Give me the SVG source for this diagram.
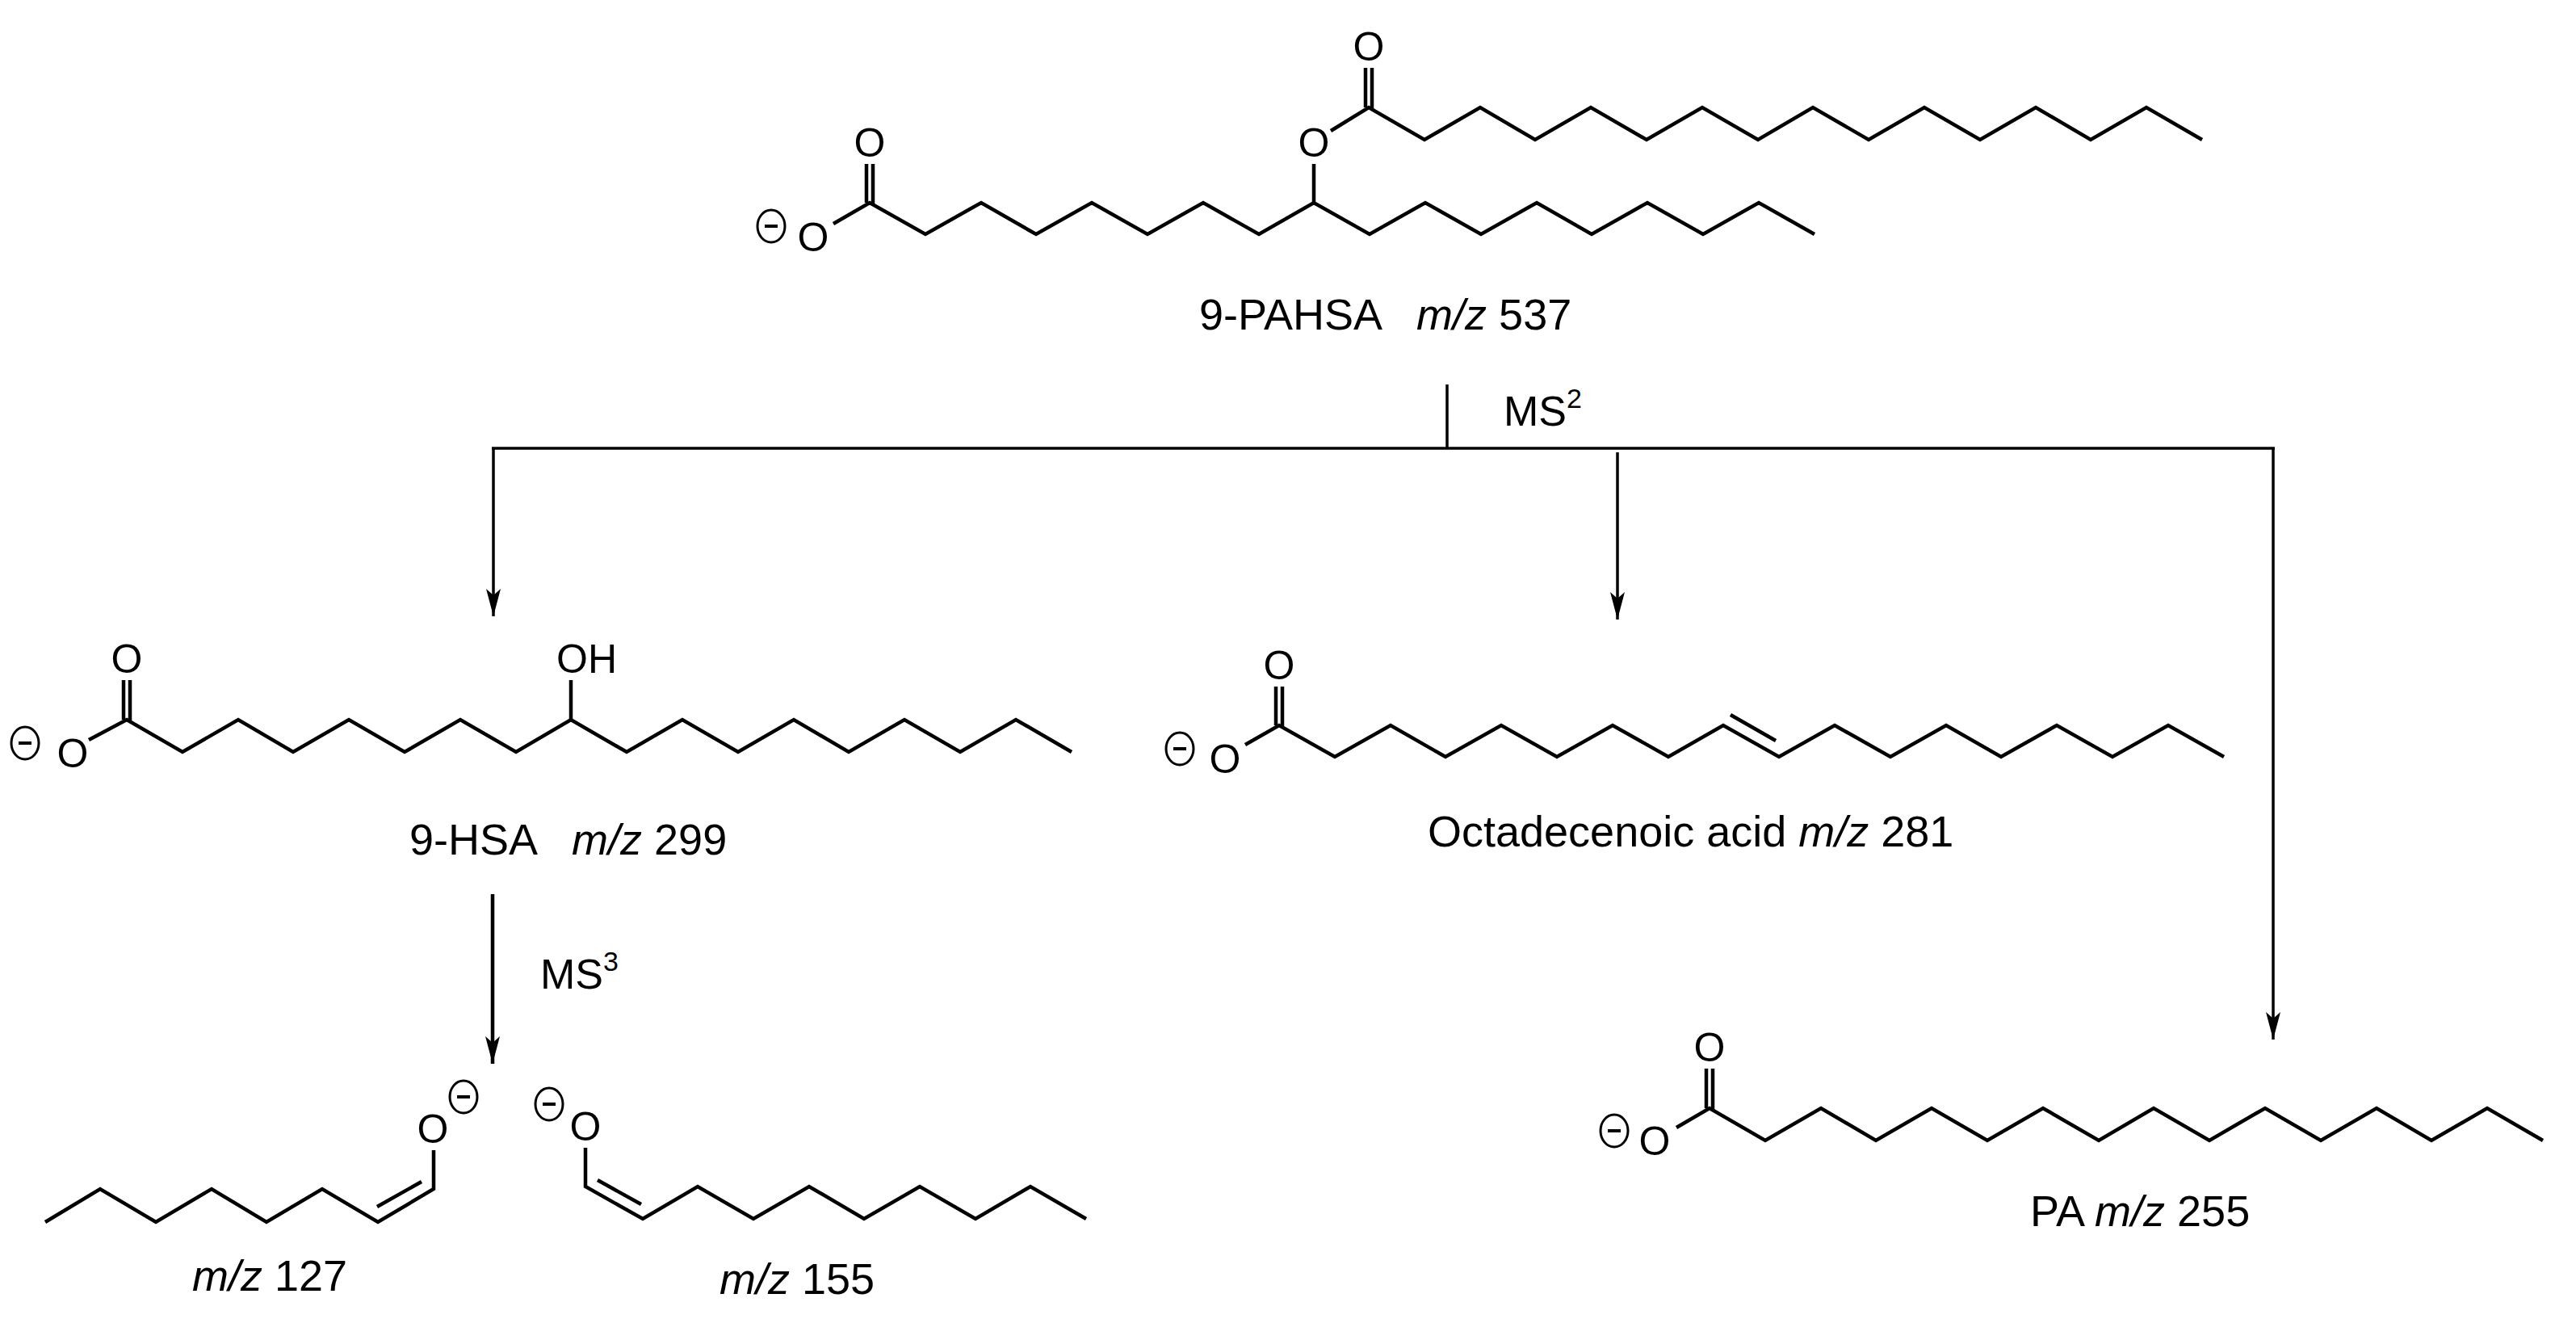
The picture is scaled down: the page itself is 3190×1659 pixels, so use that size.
<svg xmlns="http://www.w3.org/2000/svg" width="3190" height="1659" viewBox="0 0 3190 1659">
<style>
.b{fill:none;stroke:#000;stroke-width:4.5;stroke-linejoin:miter;stroke-linecap:butt}
.a{fill:none;stroke:#000;stroke-width:3.5}
.t{font-family:"Liberation Sans",Arial,sans-serif;font-size:54px;fill:#000;white-space:pre}
.at{font-family:"Liberation Sans",Arial,sans-serif;font-size:50px;fill:#000;text-anchor:middle}
.i{font-style:italic}
.m{fill:none;stroke:#000;stroke-width:3}
.mb{stroke:#000;stroke-width:4}
</style>
<defs>
<marker id="ah" markerUnits="userSpaceOnUse" markerWidth="38" markerHeight="20" viewBox="-36 -10 38 20" refX="0" refY="0" orient="auto">
<path d="M0,0 L-34,-9 L-26,0 L-34,9 Z" fill="#000"/>
</marker>
<g id="neg"><ellipse cx="0" cy="0" rx="17" ry="20" class="m"/><line x1="-8" y1="0" x2="8" y2="0" class="mb"/></g>
</defs>
<rect width="3190" height="1659" fill="#fff"/>

<g id="pahsa">
<path class="b" d="M1032,277 L1077,251 L1146,290 L1215,251 L1283,290 L1352,251 L1421,290 L1490,251 L1559,290 L1627,251 L1696,290 L1765,251 L1834,290 L1903,251 L1971,290 L2040,251 L2109,290 L2178,251 L2247,290"/>
<line class="b" x1="1073" y1="251" x2="1073" y2="203"/><line class="b" x1="1081" y1="254" x2="1081" y2="203"/>
<text class="at" x="1077" y="194">O</text>
<text class="at" x="1007" y="311">O</text>
<use href="#neg" x="955" y="280"/>
<line class="b" x1="1627" y1="251" x2="1627" y2="203"/>
<text class="at" x="1627" y="194">O</text>
<path class="b" d="M1648,162 L1695,133 L1764,173 L1833,133 L1901,173 L1970,133 L2039,173 L2108,133 L2177,173 L2245,133 L2314,173 L2383,133 L2452,173 L2521,133 L2589,173 L2658,133 L2727,173"/>
<line class="b" x1="1691" y1="133" x2="1691" y2="84"/><line class="b" x1="1699" y1="136" x2="1699" y2="84"/>
<text class="at" x="1695" y="75">O</text>
<text class="t" x="1485" y="408" xml:space="preserve">9-PAHSA   <tspan class="i">m/z</tspan> 537</text>
</g>

<g id="hsa">
<path class="b" d="M110,916 L157,891 L226,931 L295,891 L363,931 L432,891 L501,931 L570,891 L639,931 L707,891 L776,931 L845,891 L914,931 L983,891 L1051,931 L1120,891 L1189,931 L1258,891 L1327,931"/>
<line class="b" x1="153" y1="891" x2="153" y2="842"/><line class="b" x1="161" y1="894" x2="161" y2="842"/>
<text class="at" x="157" y="833">O</text>
<text class="at" x="90" y="950">O</text>
<use href="#neg" x="31" y="920"/>
<line class="b" x1="707" y1="891" x2="707" y2="842"/>
<text class="t" x="689" y="833" style="font-size:50px">OH</text>
<text class="t" x="507" y="1058" xml:space="preserve">9-HSA   <tspan class="i">m/z</tspan> 299</text>
</g>

<g id="octadecenoic">
<path class="b" d="M1542,922 L1584,898 L1653,937 L1722,898 L1790,937 L1859,898 L1928,937 L1997,898 L2066,937 L2134,898 L2203,937 L2272,898 L2341,937 L2410,898 L2478,937 L2547,898 L2616,937 L2685,898 L2754,937"/>
<line class="b" x1="2143" y1="885" x2="2199" y2="917"/>
<line class="b" x1="1580" y1="898" x2="1580" y2="850"/><line class="b" x1="1588" y1="901" x2="1588" y2="850"/>
<text class="at" x="1584" y="841">O</text>
<text class="at" x="1517" y="957">O</text>
<use href="#neg" x="1461" y="927"/>
<text class="t" x="1768" y="1048">Octadecenoic acid <tspan class="i">m/z</tspan> 281</text>
</g>

<g id="pa">
<path class="b" d="M2076,1396 L2117,1372 L2186,1412 L2255,1372 L2323,1412 L2392,1372 L2461,1412 L2530,1372 L2599,1412 L2667,1372 L2736,1412 L2805,1372 L2874,1412 L2943,1372 L3011,1412 L3080,1372 L3149,1412"/>
<line class="b" x1="2113" y1="1372" x2="2113" y2="1323"/><line class="b" x1="2121" y1="1375" x2="2121" y2="1323"/>
<text class="at" x="2117" y="1314">O</text>
<text class="at" x="2049" y="1430">O</text>
<use href="#neg" x="1999" y="1400"/>
<text class="t" x="2514" y="1518">PA <tspan class="i">m/z</tspan> 255</text>
</g>

<g id="frag127">
<path class="b" d="M56,1513 L124,1472 L193,1513 L262,1472 L330,1513 L399,1472 L468,1513 L537,1472 L537,1424"/>
<line class="b" x1="467" y1="1494" x2="522" y2="1463"/>
<text class="at" x="536" y="1415">O</text>
<use href="#neg" x="574" y="1358"/>
<text class="t" x="238" y="1598"><tspan class="i">m/z</tspan> 127</text>
</g>

<g id="frag155">
<path class="b" d="M725,1421 L725,1469 L796,1509 L864,1469 L933,1509 L1002,1469 L1070,1509 L1139,1469 L1208,1509 L1276,1469 L1345,1509"/>
<line class="b" x1="740" y1="1461" x2="794" y2="1491"/>
<text class="at" x="725" y="1412">O</text>
<use href="#neg" x="680" y="1367"/>
<text class="t" x="891" y="1602"><tspan class="i">m/z</tspan> 155</text>
</g>

<g id="connectors">
<line class="a" x1="1792" y1="476" x2="1792" y2="555"/>
<line class="a" x1="609" y1="555" x2="2817" y2="555"/>
<line class="a" x1="611" y1="555" x2="611" y2="763" marker-end="url(#ah)"/>
<line class="a" x1="2003" y1="560" x2="2003" y2="767" marker-end="url(#ah)"/>
<line class="a" x1="2815" y1="555" x2="2815" y2="1287" marker-end="url(#ah)"/>
<line class="b" x1="610" y1="1107" x2="610" y2="1317" marker-end="url(#ah)"/>
<text class="t" x="1862" y="527" style="font-size:52px">MS<tspan dy="-22" style="font-size:34px">2</tspan></text>
<text class="t" x="669" y="1224" style="font-size:52px">MS<tspan dy="-22" style="font-size:34px">3</tspan></text>
</g>
</svg>
